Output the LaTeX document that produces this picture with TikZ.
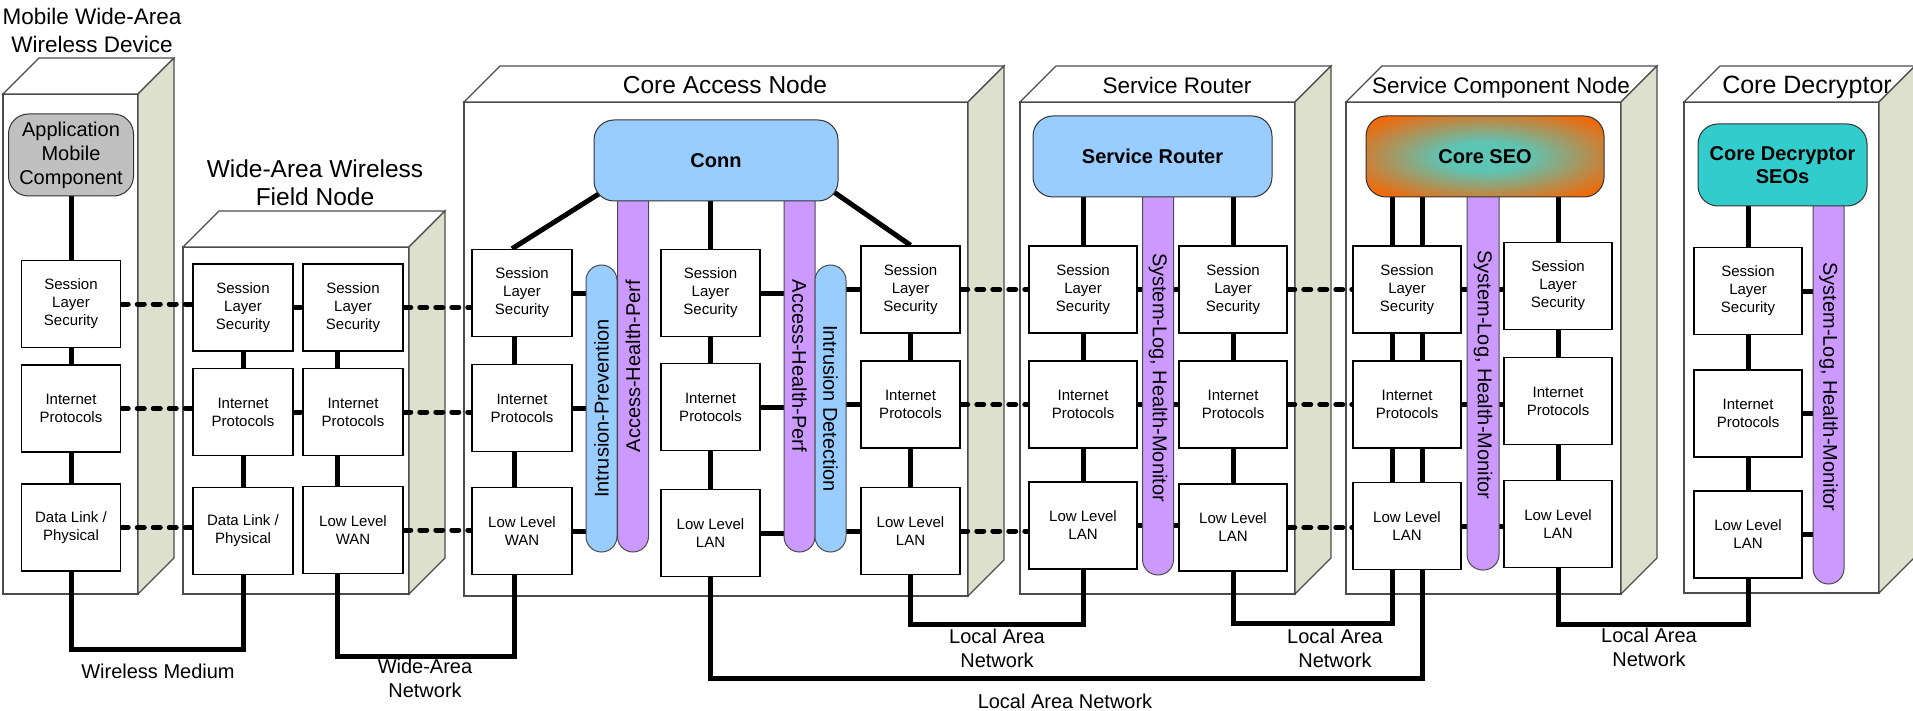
\documentclass[tikz,border=0pt]{standalone}
\usepackage{fontspec}
\setmainfont{Liberation Sans}
\usetikzlibrary{calc}
\definecolor{bleuciel}{HTML}{99CCFF}
\definecolor{mauve}{HTML}{CC99FF}
\definecolor{turquoise}{HTML}{33CCCC}
\definecolor{gris}{HTML}{C0C0C0}
\definecolor{cote}{HTML}{DDE0CC}
\definecolor{orangeseo}{HTML}{EE6A0C}
\definecolor{vertseo}{HTML}{5EC4B4}
\pgfdeclareradialshading{seo}{\pgfpoint{0bp}{0bp}}{color(0bp)=(vertseo); color(9bp)=(vertseo); color(31bp)=(orangeseo); color(50bp)=(orangeseo)}
\pgfdeclarelayer{fond}
\pgfdeclarelayer{liens}
\pgfsetlayers{fond,liens,main}

\begin{document}
\begin{tikzpicture}[x=1pt,y=-1pt]
    \tikzstyle{lien}=[line width=5pt]
    \tikzstyle{pointille}=[line width=5pt,dash pattern=on 7pt off 9pt,line cap=round]
\tikzset{couche/.style={draw,line width=1.5pt,fill=white,minimum width=#1,minimum height=87,inner sep=0,align=center,font=\fontsize{15}{18}\selectfont},
couche/.default={99},
bulle/.style={draw=black!80,line width=1pt,fill=#1,rounded corners=20pt,inner sep=0,align=center,font=\fontsize{20}{23}\selectfont\bfseries},
pilule/.style={draw=black!70,line width=1pt,fill=#1,rounded corners=15.5pt,minimum height=31,inner sep=0,font=\fontsize{20}{24}\selectfont},
titre/.style={align=center,font=\fontsize{#1}{28}\selectfont},
titre/.default={23},
reseau/.style={align=center,font=\fontsize{20}{24}\selectfont}}
\useasboundingbox (0,0) rectangle (1913,711);

\begin{pgfonlayer}{fond}
\foreach \xa/\ya/\xb/\yb in {3/94/138/594,183/247/409/594,464/102/968/596,1020/102/1295/594,1346/102/1621/594,1684/102/1879/593}{
  \filldraw[fill=white,draw=black!70,line width=1.2pt] (\xa,\ya) rectangle (\xb,\yb);
  \filldraw[fill=white,draw=black!70,line width=1.2pt] (\xa,\ya) -- (\xa+36,\ya-36) -- (\xb+36,\ya-36) -- (\xb,\ya) -- cycle;
  \filldraw[fill=cote,draw=black!70,line width=1.2pt] (\xb,\ya) -- (\xb+36,\ya-36) -- (\xb+36,\yb-36) -- (\xb,\yb) -- cycle;
}
\end{pgfonlayer}

\node[titre=22.5] (tMwd) at (92,30) {Mobile Wide-Area\\Wireless Device};
\node[titre=24.5] (tWaw) at (315,183) {Wide-Area Wireless\\Field Node};
\node[titre=24.5,anchor=base] (tCore) at (725,94) {Core Access Node};
\node[titre=22.5,anchor=base] (tSr) at (1177,94) {Service Router};
\node[titre=22.5,anchor=base] (tScn) at (1501,94) {Service Component Node};
\node[titre=25,anchor=base] (tCd) at (1807,94) {Core Decryptor};

\node[pilule=bleuciel,rotate=90,minimum width=287] (ip) at (601.5,408.5) {Intrusion-Prevention};
\node[pilule=mauve,rotate=90,minimum width=372] (ahp1) at (633,366) {Access-Health-Perf};
\node[pilule=mauve,rotate=-90,minimum width=372] (ahp2) at (799.5,366) {Access-Health-Perf};
\node[pilule=bleuciel,rotate=-90,minimum width=287] (id) at (830.5,408.5) {Intrusion Detection};
\node[pilule=mauve,rotate=-90,minimum width=395] (sl1) at (1158,377.5) {System-Log, Health-Monitor};
\node[pilule=mauve,rotate=-90,minimum width=390,minimum height=32] (sl2) at (1483,375) {System-Log, Health-Monitor};
\node[pilule=mauve,rotate=-90,minimum width=394] (sl3) at (1828.5,387) {System-Log, Health-Monitor};

\node[bulle=gris,font=\fontsize{20}{24}\selectfont,minimum width=125,minimum height=82] (mApp) at (71,155) {Application\\Mobile\\Component};
\node[bulle=bleuciel,minimum width=244,minimum height=81] (conn) at (716,160.5) {Conn};
\node[bulle=bleuciel,minimum width=239,minimum height=81] (srBox) at (1152.5,156.5) {Service Router};
\node[bulle=orangeseo,shading=seo,minimum width=238,minimum height=81] (seo) at (1485,156.5) {Core SEO};
\node[bulle=turquoise,minimum width=169,minimum height=82] (cdBox) at (1782.5,165) {Core Decryptor\\SEOs};

\node[couche] (mSes) at (71,304) {Session\\Layer\\Security};
\node[couche] (mNet) at (71,408.5) {Internet\\Protocols};
\node[couche] (mLink) at (71,527.5) {Data Link /\\Physical};

\node[couche=100] (wSes1) at (243,307.5) {Session\\Layer\\Security};
\node[couche=100] (wNet1) at (243,412) {Internet\\Protocols};
\node[couche=100] (wLink1) at (243,531) {Data Link /\\Physical};
\node[couche=100] (wSes2) at (353,307.5) {Session\\Layer\\Security};
\node[couche=100] (wNet2) at (353,412) {Internet\\Protocols};
\node[couche=100] (wWan) at (353,530) {Low Level\\WAN};

\node[couche=100] (cSesA) at (522,293) {Session\\Layer\\Security};
\node[couche=100] (cNetA) at (522,408) {Internet\\Protocols};
\node[couche=100] (cWan) at (522,531) {Low Level\\WAN};
\node[couche] (cSesB) at (710.5,293) {Session\\Layer\\Security};
\node[couche] (cNetB) at (710.5,407) {Internet\\Protocols};
\node[couche] (cLanB) at (710.5,533) {Low Level\\LAN};
\node[couche] (cSesC) at (910.5,289.5) {Session\\Layer\\Security};
\node[couche] (cNetC) at (910.5,404.5) {Internet\\Protocols};
\node[couche] (cLanC) at (910.5,531) {Low Level\\LAN};

\node[couche=108] (srSes1) at (1083,289.5) {Session\\Layer\\Security};
\node[couche=108] (srNet1) at (1083,404.5) {Internet\\Protocols};
\node[couche=108] (srLan1) at (1083,525.5) {Low Level\\LAN};
\node[couche=108] (srSes2) at (1233,289.5) {Session\\Layer\\Security};
\node[couche=108] (srNet2) at (1233,404.5) {Internet\\Protocols};
\node[couche=108] (srLan2) at (1233,527.5) {Low Level\\LAN};

\node[couche=108] (scSes1) at (1407,289.5) {Session\\Layer\\Security};
\node[couche=108] (scNet1) at (1407,404.5) {Internet\\Protocols};
\node[couche=108] (scLan1) at (1407,526) {Low Level\\LAN};
\node[couche=108] (scSes2) at (1558,286) {Session\\Layer\\Security};
\node[couche=108] (scNet2) at (1558,401) {Internet\\Protocols};
\node[couche=108] (scLan2) at (1558,524) {Low Level\\LAN};

\node[couche=108] (cdSes) at (1748,291) {Session\\Layer\\Security};
\node[couche=108] (cdNet) at (1748,413.5) {Internet\\Protocols};
\node[couche=108] (cdLan) at (1748,534.5) {Low Level\\LAN};

\node[reseau,anchor=base] (wm) at (158,678) {Wireless Medium};
\node[reseau] (wan) at (425,678) {Wide-Area\\Network};
\node[reseau] (lan1) at (997,648) {Local Area\\Network};
\node[reseau] (lan2) at (1335,648) {Local Area\\Network};
\node[reseau] (lan3) at (1649,647) {Local Area\\Network};
\node[reseau,anchor=base] (lan0) at (1065,708) {Local Area Network};

\begin{pgfonlayer}{liens}
\draw[lien] (mApp) -- (mLink);
\draw[lien] (wSes1) -- (wLink1);
\draw[lien] ([xshift=-16pt]wSes2.center) -- ([xshift=-16pt]wWan.center);
\draw[lien] ([xshift=-8pt]cSesA.center) -- ([xshift=-8pt]cWan.center);
\draw[lien] (cSesB |- conn) -- (cLanB);
\draw[lien] (cSesC) -- (cLanC);
\draw[lien] ($(conn.south west)+(6,-8)$) -- ([xshift=-10pt]cSesA.north);
\draw[lien] ($(conn.south east)+(-4,-9)$) -- (cSesC.north);
\foreach \b in {cSesA,cNetA,cWan}{\draw[lien] (\b) -- (\b -| ip);}
\foreach \b in {cSesB,cNetB,cLanB}{\draw[lien] (\b) -- (\b -| ahp2);}
\foreach \b in {cSesC,cNetC,cLanC}{\draw[lien] (\b) -- (\b -| id);}
\draw[lien] (srSes1 |- srBox) -- (srLan1);
\draw[lien] (srSes2 |- srBox) -- (srLan2);
\draw[lien] ($(scSes1 |- seo)+(-15,0)$) -- ($(scLan1)+(-15,0)$);
\draw[lien] ($(scSes1 |- seo)+(15,0)$) -- ($(scLan1)+(15,0)$);
\draw[lien] (scSes2 |- seo) -- (scLan2);
\draw[lien] (cdSes |- cdBox) -- (cdLan);
\foreach \a/\b in {srSes1/srSes2,srNet1/srNet2,srLan1/srLan2,scSes1/scSes2,scNet1/scNet2,scLan1/scLan2}{\draw[lien] (\a) -- (\a -| \b);}
\foreach \b in {cdSes,cdNet,cdLan}{\draw[lien] (\b) -- (\b -| sl3);}

\draw[lien] (mLink) -- ++(0,122) -| (wLink1);
\draw[lien] ([xshift=-16pt]wWan.center) -- ++(0,126) -| ([xshift=-8pt]cWan.center);
\draw[lien] (cLanB) -- ++(0,145) -| ($(scLan1)+(15,0)$);
\draw[lien] (cLanC) -- ++(0,93) -| (srLan1);
\draw[lien] (srLan2) -- ++(0,96) -| ($(scLan1)+(-15,0)$);
\draw[lien] (scLan2) -- ++(0,100) -| (cdLan);

\foreach \a/\b in {mSes/wSes1,mNet/wNet1,mLink/wLink1,wSes1/wSes2,wNet1/wNet2,wSes2/cSesA,wNet2/cNetA,wWan/cWan,cSesC/srSes1,cNetC/srNet1,cLanC/srLan1,srSes2/scSes1,srNet2/scNet1,srLan2/scLan1}
  {\draw[pointille] (\a.east) -- (\a.east -| \b.west);}
\end{pgfonlayer}

  \end{tikzpicture}
\end{document}
